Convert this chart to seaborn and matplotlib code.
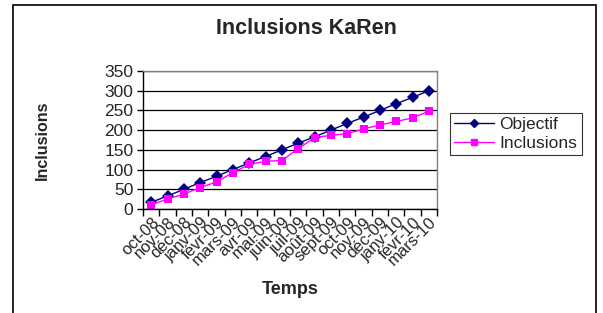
import pandas as pd
import matplotlib
matplotlib.use("Agg")
import matplotlib.pyplot as plt
from matplotlib.patches import Rectangle
from matplotlib.ticker import FixedLocator
import seaborn as sns

# Données
mois = ["oct-08", "nov-08", "déc-08", "janv-09", "févr-09", "mars-09",
        "avr-09", "mai-09", "juin-09", "juil-09", "août-09", "sept-09",
        "oct-09", "nov-09", "déc-09", "janv-10", "févr-10", "mars-10"]
objectif = [17, 33, 50, 67, 83, 100, 117, 133, 150, 167, 183, 200,
            217, 233, 250, 267, 283, 300]
inclusions = [11, 25, 38, 54, 69, 92, 113, 121, 123, 153, 181, 187,
              191, 203, 213, 222, 231, 248]

df = pd.DataFrame({
    "pos": list(range(len(mois))) * 2,
    "valeur": objectif + inclusions,
    "serie": ["Objectif"] * len(mois) + ["Inclusions"] * len(mois),
})

sns.set_style("white")
plt.rcParams["font.family"] = ["Liberation Sans", "DejaVu Sans"]

fig = plt.figure(figsize=(6.03, 3.13), dpi=100)
ax = fig.add_axes([143 / 603, 1 - 209 / 313, (437 - 143) / 603, (209 - 71) / 313])

sns.lineplot(data=df, x="pos", y="valeur", hue="serie", style="serie",
             palette={"Objectif": "#000080", "Inclusions": "#FF00FF"},
             markers={"Objectif": "D", "Inclusions": "s"},
             dashes=False, markersize=6, markeredgewidth=0, linewidth=1,
             ax=ax, legend=False)

ax.set_xlim(-0.5, len(mois) - 0.5)
ax.set_ylim(0, 350)
ax.set_yticks(range(0, 351, 50))
ax.yaxis.grid(True, color="black", linewidth=0.9)
ax.set_axisbelow(True)

ax.set_xticks(range(len(mois)))
ax.set_xticklabels(mois, rotation=45, ha="right", rotation_mode="anchor", fontsize=12)
ax.xaxis.set_minor_locator(FixedLocator([i - 0.5 for i in range(len(mois) + 1)]))
ax.tick_params(axis="x", which="major", length=0, pad=4)
ax.tick_params(axis="x", which="minor", length=5, width=1, color="black", direction="out", bottom=True)
ax.tick_params(axis="y", length=4, width=1, color="black", direction="out", left=True, labelsize=12.5, pad=3)

for s in ["left", "bottom"]:
    ax.spines[s].set_color("black")
    ax.spines[s].set_linewidth(1)
for s in ["top", "right"]:
    ax.spines[s].set_color("#808080")
    ax.spines[s].set_linewidth(1)

ax.set_xlabel("")
ax.set_ylabel("")
fig.text(306 / 603, 1 - 28 / 313, "Inclusions KaRen", ha="center", va="center",
         fontsize=15.5, fontweight="bold")
fig.text(42 / 603, 1 - 140 / 313, "Inclusions", ha="center", va="center",
         rotation=90, fontsize=11.5, fontweight="bold")
fig.text(290 / 603, 1 - 290 / 313, "Temps", ha="center", va="center",
         fontsize=13, fontweight="bold")

handles = [
    plt.Line2D([], [], color="#000080", marker="D", markersize=4, linewidth=1),
    plt.Line2D([], [], color="#FF00FF", marker="s", markersize=5, linewidth=1),
]
leg = fig.legend(handles, ["Objectif", "Inclusions"], loc="upper left",
                 bbox_to_anchor=(450 / 603, 1 - 113 / 313), fontsize=12.5,
                 frameon=True, fancybox=False, handlelength=2.3,
                 borderpad=0.25, labelspacing=0.2, handletextpad=0.3,
                 borderaxespad=0)
leg.get_frame().set_edgecolor("black")
leg.get_frame().set_linewidth(0.8)

fig.patches.append(Rectangle((13 / 603, -0.1), (596 - 13) / 603, 1.1 - 5 / 313,
                             transform=fig.transFigure, fill=False,
                             edgecolor="black", linewidth=1.2))

fig.savefig("out.png", dpi=100)
